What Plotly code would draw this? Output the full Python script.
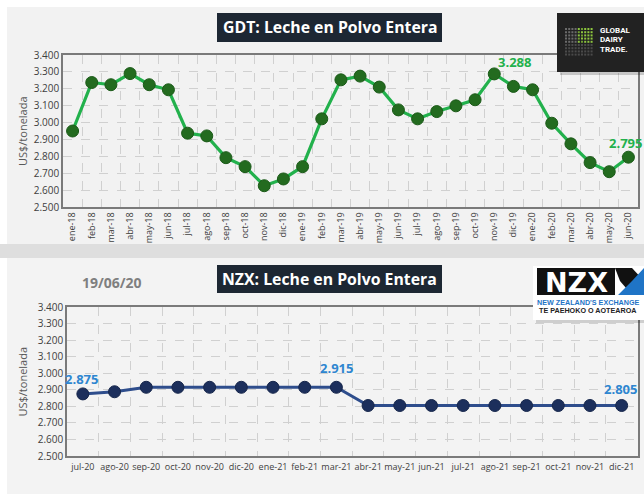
import plotly.graph_objects as go

W, H = 644, 494

# ---------------- data ----------------
gdt_months = ["ene-18", "feb-18", "mar-18", "abr-18", "may-18", "jun-18", "jul-18", "ago-18",
              "sep-18", "oct-18", "nov-18", "dic-18", "ene-19", "feb-19", "mar-19", "abr-19",
              "may-19", "jun-19", "jul-19", "ago-19", "sep-19", "oct-19", "nov-19", "dic-19",
              "ene-20", "feb-20", "mar-20", "abr-20", "may-20", "jun-20"]
gdt_values = [2950, 3237, 3224, 3290, 3224, 3194, 2937, 2921, 2792, 2739, 2626, 2666,
              2739, 3022, 3253, 3275, 3210, 3075, 3022, 3065, 3099, 3135, 3288, 3214,
              3194, 2996, 2874, 2763, 2709, 2795]

nzx_months = ["jul-20", "ago-20", "sep-20", "oct-20", "nov-20", "dic-20", "ene-21", "feb-21",
              "mar-21", "abr-21", "may-21", "jun-21", "jul-21", "ago-21", "sep-21", "oct-21",
              "nov-21", "dic-21"]
nzx_values = [2875, 2888, 2915, 2915, 2915, 2915, 2915, 2915, 2915,
              2805, 2805, 2805, 2805, 2805, 2805, 2805, 2805, 2805]

y_ticks = [2500, 2600, 2700, 2800, 2900, 3000, 3100, 3200, 3300, 3400]

gdt_labels = {22: "3.288", 29: "2.795"}
nzx_labels = {0: "2.875", 8: "2.915", 17: "2.805"}

# ------------- helpers (pixel -> paper) -------------
def px(x):
    return x / W

def py(y):
    return 1 - y / H

FONT = "Open Sans"
GRID = "#d0d0d0"
TICKC = "#404040"

fig = go.Figure()

fig.add_trace(go.Scatter(
    x=list(range(len(gdt_months))), y=gdt_values, mode="lines+markers",
    line=dict(color="#22b14c", width=3.2),
    marker=dict(color="#236b1f", size=12, line=dict(color="#1b5a18", width=1)),
    xaxis="x", yaxis="y", cliponaxis=False, hoverinfo="skip"))

fig.add_trace(go.Scatter(
    x=list(range(len(nzx_months))), y=nzx_values, mode="lines+markers",
    line=dict(color="#2e4d8c", width=3),
    marker=dict(color="#1c2f5c", size=12, line=dict(color="#16264b", width=1)),
    xaxis="x2", yaxis="y2", cliponaxis=False, hoverinfo="skip"))

common_y = dict(range=[2500, 3400], tickvals=y_ticks, tickformat=",d",
                showgrid=True, gridcolor=GRID, griddash="dash", gridwidth=1,
                showline=True, linecolor="#7a7a7a", linewidth=1.5, mirror=True,
                ticks="", tickfont=dict(family=FONT, size=10, color=TICKC),
                zeroline=False, fixedrange=True, automargin=False)

fig.update_layout(
    width=W, height=H, margin=dict(l=0, r=0, t=0, b=0, autoexpand=False),
    paper_bgcolor="white", plot_bgcolor="white", showlegend=False,
    separators=",.",
    font=dict(family=FONT, color=TICKC),
    xaxis=dict(domain=[px(63), px(638)], anchor="y", automargin=False,
               range=[-0.5, len(gdt_months) - 0.5],
               tickvals=list(range(len(gdt_months))), ticktext=gdt_months,
               tickangle=-90, tickfont=dict(family=FONT, size=9, color=TICKC),
               showgrid=False, zeroline=False, ticks="",
               minor=dict(tick0=0.5, dtick=1, showgrid=True, gridcolor=GRID, griddash="dash", ticks=""),
               showline=True, linecolor="#7a7a7a", linewidth=1.5, mirror=True),
    yaxis=dict(domain=[py(207), py(55)], anchor="x", **common_y),
    xaxis2=dict(domain=[px(67), px(637.5)], anchor="y2", automargin=False,
                range=[-0.5, len(nzx_months) - 0.5],
                tickvals=list(range(len(nzx_months))), ticktext=nzx_months,
                tickangle=0, tickfont=dict(family=FONT, size=9, color=TICKC),
                ticklabelstandoff=1,
                showgrid=False, zeroline=False, ticks="",
                minor=dict(tick0=0.5, dtick=1, showgrid=True, gridcolor=GRID, griddash="dash", ticks=""),
                showline=True, linecolor="#7a7a7a", linewidth=1.5, mirror=True),
    yaxis2=dict(domain=[py(456), py(307)], anchor="x2", **common_y),
)

shapes = []
# panel backgrounds
shapes.append(dict(type="rect", xref="paper", yref="paper", x0=px(7), x1=1, y0=py(244), y1=py(7),
                   fillcolor="#f2f2f2", line=dict(width=0), layer="below"))
shapes.append(dict(type="rect", xref="paper", yref="paper", x0=0, x1=1, y0=py(258), y1=py(244),
                   fillcolor="#dedede", line=dict(width=0), layer="below"))
shapes.append(dict(type="rect", xref="paper", yref="paper", x0=px(7), x1=1, y0=0, y1=py(258),
                   fillcolor="#f3f3f3", line=dict(width=0), layer="below"))
# title boxes
for (y0, y1) in [(13, 42), (265, 293)]:
    shapes.append(dict(type="rect", xref="paper", yref="paper", x0=px(217), x1=px(442),
                       y0=py(y1), y1=py(y0), fillcolor="#1d2733", line=dict(width=0)))

# GDT logo
shapes.append(dict(type="rect", xref="paper", yref="paper", x0=px(560), x1=1, y0=py(75), y1=py(16),
                   fillcolor="rgba(0,0,0,0.18)", line=dict(width=0)))
shapes.append(dict(type="rect", xref="paper", yref="paper", x0=px(557), x1=1, y0=py(72), y1=py(13),
                   fillcolor="#222222", line=dict(width=0)))
for r in range(9):
    for c in range(9):
        x0 = 565 + c * 3.2
        y0 = 28 + r * 3.2
        if r < 5 and c >= 4:
            col = "#8dc63f" if (c + r) % 2 == 0 or c > 5 else "#6fa030"
        elif r < 5:
            col = "#6a6a6a"
        else:
            col = "#4a4a4a"
        shapes.append(dict(type="rect", xref="paper", yref="paper", x0=px(x0), x1=px(x0 + 2),
                           y0=py(y0 + 2), y1=py(y0), fillcolor=col, line=dict(width=0)))

# NZX logo
shapes.append(dict(type="rect", xref="paper", yref="paper", x0=px(536), x1=1, y0=py(323), y1=py(269),
                   fillcolor="rgba(0,0,0,0.15)", line=dict(width=0)))
shapes.append(dict(type="rect", xref="paper", yref="paper", x0=px(533), x1=1, y0=py(320), y1=py(266),
                   fillcolor="white", line=dict(width=0)))
shapes.append(dict(type="rect", xref="paper", yref="paper", x0=px(537), x1=px(615), y0=py(295), y1=py(268),
                   fillcolor="#111111", line=dict(width=0)))
shapes.append(dict(type="path", xref="paper", yref="paper",
                   path=f"M {px(615)},{py(268)} L {px(632)},{py(268)} L {px(644)},{py(281)} L {px(644)},{py(295)} L {px(632)},{py(295)} L {px(620)},{py(281)} Z",
                   fillcolor="#111111", line=dict(width=0)))
shapes.append(dict(type="path", xref="paper", yref="paper",
                   path=f"M {px(618)},{py(295)} L {px(632)},{py(281)} L {px(644)},{py(268)} L {px(644)},{py(295)} Z",
                   fillcolor="#1f74c6", line=dict(width=0)))

fig.update_layout(shapes=shapes)


def pann(text, x, y, size, color, family=FONT, xanchor="center", **kw):
    return dict(text=text, xref="paper", yref="paper", x=px(x), y=py(y), showarrow=False,
                xanchor=xanchor, yanchor="middle",
                font=dict(family=family, size=size, color=color), **kw)


ann = []
ann.append(pann("<b>GDT: Leche en Polvo Entera</b>", 329.5, 27.5, 15.8, "white"))
ann.append(pann("<b>NZX: Leche en Polvo Entera</b>", 329.5, 279, 15.8, "white"))
ann.append(pann("<b>19/06/20</b>", 112, 282, 14, "#7f7f7f"))
for yc in (131, 381.5):
    ann.append(pann("US$/tonelada", 22, yc, 11, "#595959", textangle=-90))

# GDT logo text
for txt, yy in (("GLOBAL", 30.5), ("DAIRY", 40), ("TRADE.", 49.5)):
    ann.append(pann(f"<b>{txt}</b>", 598, yy, 8, "white", family="Roboto", xanchor="left"))
# NZX logo text
ann.append(pann("<b>NZX</b>", 576, 282, 27, "white", family="DejaVu Sans"))
ann.append(pann("<b>NEW ZEALAND'S EXCHANGE</b>", 535, 302, 7.2, "#1f74c6", family="Liberation Sans",
                xanchor="left"))
ann.append(pann("<b>TE PAEHOKO O AOTEAROA</b>", 537, 310, 7.2, "#222222", family="Liberation Sans",
                xanchor="left"))

# data labels
gdt_offsets = {22: (20, 12), 29: (-3, 14)}
for i, txt in gdt_labels.items():
    dx, dy = gdt_offsets[i]
    ann.append(dict(text=f"<b>{txt}</b>", x=i, y=gdt_values[i], xref="x", yref="y",
                    showarrow=False, xshift=dx, yshift=dy, xanchor="center", yanchor="middle",
                    font=dict(family=FONT, size=13, color="#22b14c")))
nzx_offsets = {0: (-1, 15), 8: (0, 19), 17: (-1, 17)}
for i, txt in nzx_labels.items():
    dx, dy = nzx_offsets[i]
    ann.append(dict(text=f"<b>{txt}</b>", x=i, y=nzx_values[i], xref="x2", yref="y2",
                    showarrow=False, xshift=dx, yshift=dy, xanchor="center", yanchor="middle",
                    font=dict(family=FONT, size=13, color="#2e86d0")))

fig.update_layout(annotations=ann)

fig.write_html("out.html", config={"displayModeBar": False},
               post_script="document.body.style.margin='0';document.body.style.overflow='hidden';")
